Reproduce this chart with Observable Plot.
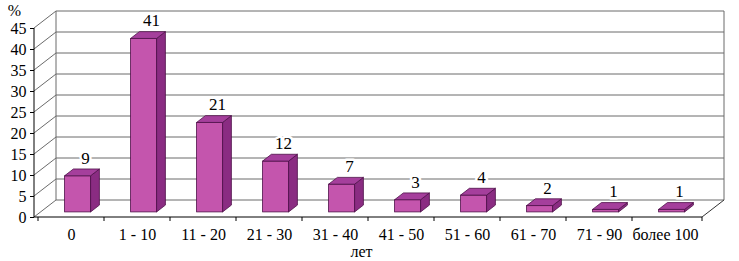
<!DOCTYPE html>
<html>
<head>
<meta charset="utf-8">
<script src="https://cdn.jsdelivr.net/npm/d3@7"></script>
<script src="https://cdn.jsdelivr.net/npm/@observablehq/plot@0.6"></script>
<style>
  html, body { margin: 0; padding: 0; background: #fff; }
  #chart { width: 739px; height: 261px; }
  #chart svg text { font-family: "Liberation Serif", "Times New Roman", serif; }
</style>
</head>
<body>
<div id="chart"></div>
<script>
const categories = ["0", "1 - 10", "11 - 20", "21 - 30", "31 - 40", "41 - 50", "51 - 60", "61 - 70", "71 - 90", "более 100"];
const values = [8.6, 41.3, 21.3, 12.1, 6.6, 2.9, 4.0, 1.5, 0.6, 0.6];
const valueLabels = ["9", "41", "21", "12", "7", "3", "4", "2", "1", "1"];
const yTicks = [0, 5, 10, 15, 20, 25, 30, 35, 40, 45];
const yUnit = "%";
const xTitle = "лет";

const data = categories.map((c, i) => ({cat: c, value: values[i], label: valueLabels[i]}));

// 3D depth vector (pixels) and bar depth placement
const DX = 22, DY = -17;
const B0 = 0.3, B1 = 0.7;
const INSET = 20;
const FRONT = "#c455ad", TOP = "#a53f9c", SIDE = "#8a2c82", EDGE = "#4e1049";
const GRID = "#6b6b6b";

function bandOf(scale) {
  if (!scale) return 0;
  const b = scale.bandwidth;
  return typeof b === "function" ? b() : (b || 0);
}

function walls(index, scales, values_, dimensions) {
  const {x, y} = scales;
  const x0 = dimensions.marginLeft;
  const x1 = dimensions.width - dimensions.marginRight;
  const g = d3.create("svg:g").attr("fill", "none");
  for (const t of yTicks) {
    g.append("line").attr("x1", x0 + DX).attr("x2", x1 + DX)
      .attr("y1", y(t) + DY).attr("y2", y(t) + DY).attr("stroke", GRID);
    g.append("line").attr("x1", x0).attr("x2", x0 + DX)
      .attr("y1", y(t)).attr("y2", y(t) + DY).attr("stroke", GRID);
  }
  const yTop = y(yTicks[yTicks.length - 1]);
  const yBot = y(0);
  g.append("line").attr("x1", x0 + DX).attr("x2", x0 + DX)
    .attr("y1", yTop + DY).attr("y2", yBot + DY).attr("stroke", GRID);
  g.append("line").attr("x1", x1 + DX).attr("x2", x1 + DX)
    .attr("y1", yTop + DY).attr("y2", yBot + DY).attr("stroke", GRID);
  g.append("line").attr("x1", x1).attr("x2", x1 + DX)
    .attr("y1", yBot).attr("y2", yBot + DY).attr("stroke", "#333");
  g.append("line").attr("x1", x0).attr("x2", x1)
    .attr("y1", yBot).attr("y2", yBot).attr("stroke", "#000");
  for (let i = 0; i <= categories.length; i++) {
    const xx = i < categories.length ? x(categories[i]) : x1;
    g.append("line").attr("x1", xx).attr("x2", xx)
      .attr("y1", yBot).attr("y2", yBot + 4).attr("stroke", "#000");
  }
  g.append("line").attr("x1", x0).attr("x2", x0)
    .attr("y1", yTop).attr("y2", yBot).attr("stroke", "#000");
  return g.node();
}

function barFaces(index, scales) {
  const {x, y} = scales;
  const bw = bandOf(x);
  const g = d3.create("svg:g").attr("stroke", EDGE).attr("stroke-width", 0.8).attr("stroke-linejoin", "round");
  const ddx = (B1 - B0) * DX, ddy = (B1 - B0) * DY;
  data.forEach(d => {
    const xl = x(d.cat) + INSET + B0 * DX;
    const xr = x(d.cat) + bw - INSET + B0 * DX;
    const yt = y(d.value) + B0 * DY;
    const yb = y(0) + B0 * DY;
    g.append("path").attr("fill", SIDE)
      .attr("d", `M${xr},${yt}L${xr + ddx},${yt + ddy}L${xr + ddx},${yb + ddy}L${xr},${yb}Z`);
    g.append("path").attr("fill", TOP)
      .attr("d", `M${xl},${yt}L${xr},${yt}L${xr + ddx},${yt + ddy}L${xl + ddx},${yt + ddy}Z`);
  });
  return g.node();
}

const chart = Plot.plot({
  width: 739,
  height: 261,
  marginLeft: 34,
  marginRight: 37,
  marginTop: 28,
  marginBottom: 44,
  style: {fontFamily: "Liberation Serif", fontSize: "16px", background: "#fff", color: "#000"},
  x: {type: "band", domain: categories, padding: 0, tickSize: 0, tickPadding: 11, label: null},
  y: {domain: [0, 45], ticks: yTicks, tickSize: 4, tickPadding: 4, label: null},
  marks: [
    walls,
    Plot.barY(data, {x: "cat", y: "value", fill: FRONT, stroke: EDGE, strokeWidth: 0.8,
      insetLeft: INSET, insetRight: INSET, dx: B0 * DX, dy: B0 * DY}),
    barFaces,
    Plot.text(data, {x: "cat", y: "value", text: "label", dx: 14, dy: -23, lineAnchor: "middle",
      fill: "#000", stroke: "#fff", strokeWidth: 5, fontSize: 17}),
    Plot.text([yUnit], {text: d => d, frameAnchor: "top-left", dx: -20, dy: -18,
      textAnchor: "middle", lineAnchor: "middle", fontSize: 16}),
    Plot.text([xTitle], {text: d => d, frameAnchor: "bottom", dx: -7, dy: 34,
      textAnchor: "middle", lineAnchor: "middle", fontSize: 16})
  ]
});
document.getElementById("chart").appendChild(chart);
</script>
</body>
</html>
